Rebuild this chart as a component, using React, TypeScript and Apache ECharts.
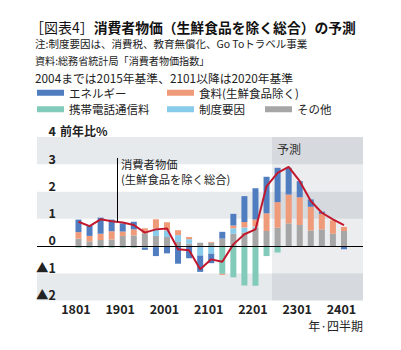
import React, { useEffect, useRef } from 'react';
import * as echarts from 'echarts';

// 年・四半期
const quarters = [
  '1801', '1802', '1803', '1804',
  '1901', '1902', '1903', '1904',
  '2001', '2002', '2003', '2004',
  '2101', '2102', '2103', '2104',
  '2201', '2202', '2203', '2204',
  '2301', '2302', '2303', '2304',
  '2401',
];
const forecastStart = '2203';

// 寄与度 (%pt)
const energy = [0.46, 0.39, 0.59, 0.43, 0.3, 0.28, -0.08, -0.33, -0.24, -0.65, -0.45, -0.6, -0.35, 0.25, 0.43, 0.95, 1.15, 1.34, 1.26, 0.98, 0.59, 0.27, 0.08, 0, -0.12];
const food = [0.24, 0.2, 0.23, 0.3, 0.16, 0.22, 0.18, 0.34, 0.3, 0.18, 0.08, 0, 0.03, -0.04, 0.1, 0.2, 0.25, 0.65, 0.94, 1.06, 1.02, 0.87, 0.57, 0.49, 0.15];
const mobile = [-0.06, -0.06, -0.06, -0.06, -0.06, -0.06, -0.06, -0.04, -0.03, 0, 0, 0, 0, -1.02, -1.15, -1.45, -1.46, -0.37, -0.24, 0, 0, 0, 0, 0, 0];
const institutional = [0, 0, 0, 0, 0, 0, 0, 0.27, 0.24, 0.25, 0.17, -0.35, -0.28, 0, 0.2, 0.18, 0.05, 0, 0, 0, 0, 0, 0, 0, 0];
const other = [0.27, 0.17, 0.22, 0.24, 0.37, 0.39, 0.47, 0.37, 0.33, 0.15, 0.08, 0.12, 0.12, 0.27, 0.45, 0.5, 0.67, 0.55, 0.67, 0.83, 0.77, 0.57, 0.61, 0.45, 0.55];
// 消費者物価(生鮮食品を除く総合) 前年比%
const cpi = [0.89, 0.73, 0.98, 0.91, 0.86, 0.77, 0.49, 0.61, 0.64, -0.12, -0.16, -0.85, -0.49, -0.58, 0.06, 0.43, 0.61, 2.19, 2.68, 2.9, 2.38, 1.65, 1.22, 0.98, 0.77];

const yMin = -2;
const yMax = 4;
const yInterval = 1;

const FONT = '"Noto Sans CJK JP", "Noto Sans", sans-serif';

const C = {
  energy: '#4f7dc0',
  food: '#ef9a78',
  mobile: '#82cbbb',
  inst: '#88cbea',
  other: '#a6a6a6',
  cpi: '#c2182e',
};

export default function App() {
  const ref = useRef<HTMLDivElement>(null);

  useEffect(() => {
    if (!ref.current) return;
    document.body.style.margin = '0';
    const chart = echarts.init(ref.current, undefined, { renderer: 'svg' });

    const n = quarters.length;
    // layout: plot area and padding (in quarter units) before first / after last bar
    const plotL = 37;
    const plotR = 363;
    const padL = 3.75;
    const padR = 1.72;
    const unit = (plotR - plotL) / (n - 1 + padL + padR);
    const grid1Left = plotL + (padL - 0.5) * unit;
    const grid1Right = 401 - plotR + (padR - 0.5) * unit;
    const top = 137;
    const bottom = 49.5;

    const fIdx = quarters.indexOf(forecastStart);

    const bar = (name: string, data: number[], color: string) => ({
      name,
      type: 'bar',
      stack: 'total',
      xAxisIndex: 1,
      yAxisIndex: 1,
      barWidth: 6,
      data,
      itemStyle: { color },
      emphasis: { disabled: true },
    });

    const legendItem = (name: string, left: number, t: number) => ({
      data: [{ name, icon: 'rect' }],
      left,
      top: t,
      padding: 0,
      itemWidth: 27,
      itemHeight: 6,
      selectedMode: false,
      textStyle: { fontFamily: FONT, fontSize: 11.5, color: '#222' },
    });

    const txt = (text: string, left: number, t: number, fontSize: number, extra: any = {}) => ({
      type: 'text',
      left,
      top: t,
      z: 100,
      style: { text, fontFamily: FONT, fontSize, fill: '#222', ...extra },
    });

    chart.setOption({
      animation: false,
      textStyle: { fontFamily: FONT },
      grid: [
        { left: plotL, right: 401 - plotR, top, bottom },
        { left: grid1Left, right: grid1Right, top, bottom },
      ],
      legend: [
        legendItem('エネルギー', 37, 87),
        legendItem('食料(生鮮食品除く)', 167, 87),
        legendItem('携帯電話通信料', 37, 103.5),
        legendItem('制度要因', 167, 103.5),
        legendItem('その他', 265, 103.5),
      ],
      xAxis: [
        {
          gridIndex: 0,
          type: 'value',
          min: -padL,
          max: n - 1 + padR,
          show: false,
        },
        {
          gridIndex: 1,
          type: 'category',
          data: quarters,
          boundaryGap: true,
          axisLine: { show: false },
          axisTick: { show: false },
          splitLine: { show: false },
          axisLabel: {
            interval: (_i: number, v: string) => v.endsWith('01'),
            margin: 1.5,
            lineHeight: 13,
            padding: [0, 5, 0, 0],
            fontSize: 12.5,
            fontWeight: 600,
            color: '#222',
            fontFamily: FONT,
          },
        },
      ],
      yAxis: [
        {
          gridIndex: 0,
          type: 'value',
          min: yMin,
          max: yMax,
          interval: yInterval,
          axisLine: { show: false },
          axisTick: { show: false },
          splitLine: { show: false },
          splitArea: {
            show: true,
            areaStyle: { color: ['#e7eaed', '#ffffff', '#ffffff', '#e7eaed', '#ffffff', '#e7eaed'] },
          },
          axisLabel: {
            margin: -19,
            align: 'right',
            verticalAlign: 'bottom',
            fontSize: 12.5,
            fontWeight: 'bold',
            color: '#222',
            fontFamily: FONT,
            formatter: (v: number) => (v < 0 ? '▲' + -v : String(v)),
          },
        },
        {
          gridIndex: 1,
          type: 'value',
          min: yMin,
          max: yMax,
          interval: yInterval,
          show: false,
        },
      ],
      series: [
        {
          name: 'base',
          type: 'line',
          xAxisIndex: 0,
          yAxisIndex: 0,
          data: [],
          silent: true,
          markLine: {
            silent: true,
            symbol: ['none', 'none'],
            label: { show: false },
            lineStyle: { color: '#000', width: 1, type: 'solid' },
            data: [
              { yAxis: 0 },
              [{ coord: [3.5, 3.23] }, { coord: [3.5, (cpi[3] + cpi[4]) / 2] }],
            ],
          },
          markArea: {
            silent: true,
            itemStyle: { color: 'rgba(40,60,80,0.09)' },
            label: {
              show: true,
              position: 'insideTopLeft',
              color: '#333',
              fontSize: 12,
              fontFamily: FONT,
            },
            data: [[{ name: '予測', xAxis: fIdx - 0.5 }, { xAxis: n - 1 + padR }]],
          },
        },
        bar('その他', other, C.other),
        bar('制度要因', institutional, C.inst),
        bar('携帯電話通信料', mobile, C.mobile),
        bar('食料(生鮮食品除く)', food, C.food),
        bar('エネルギー', energy, C.energy),
        {
          name: '消費者物価(生鮮食品を除く総合)',
          type: 'line',
          xAxisIndex: 1,
          yAxisIndex: 1,
          z: 4,
          data: cpi,
          symbol: 'none',
          lineStyle: { color: C.cpi, width: 2 },
          itemStyle: { color: C.cpi },
          emphasis: { disabled: true },
        },
      ],
      graphic: [
        {
          type: 'text',
          left: 30,
          top: 19.5,
          z: 100,
          style: {
            text: '{a|［図表4］}{b|消費者物価（生鮮食品を除く総合）の予測}',
            rich: {
              a: { fontFamily: FONT, fontSize: 14, lineHeight: 14, fontWeight: 'normal', fill: '#111' },
              b: { fontFamily: FONT, fontSize: 13.8, lineHeight: 14, fontWeight: 'bold', fill: '#111' },
            },
          },
        },
        txt('注:制度要因は、消費税、教育無償化、Go Toトラベル事業', 35, 38, 10.5, { lineHeight: 11 }),
        txt('資料:総務省統計局「消費者物価指数」', 35, 54.5, 10.1, { lineHeight: 11 }),
        txt('2004までは2015年基準、2101以降は2020年基準', 35, 70.5, 11.8, { lineHeight: 13 }),
        txt('前年比%', 60, 124.5, 12, { fontWeight: 'bold' }),
        txt('消費者物価\n(生鮮食品を除く総合)', 121, 156, 11.3, { lineHeight: 15.5 }),
        {
          type: 'text',
          right: 38,
          top: 319.5,
          z: 100,
          style: { text: '年·四半期', fontFamily: FONT, fontSize: 12, lineHeight: 12, fill: '#222' },
        },
      ],
    });

    return () => chart.dispose();
  }, []);

  return <div ref={ref} style={{ width: 401, height: 350 }} />;
}
